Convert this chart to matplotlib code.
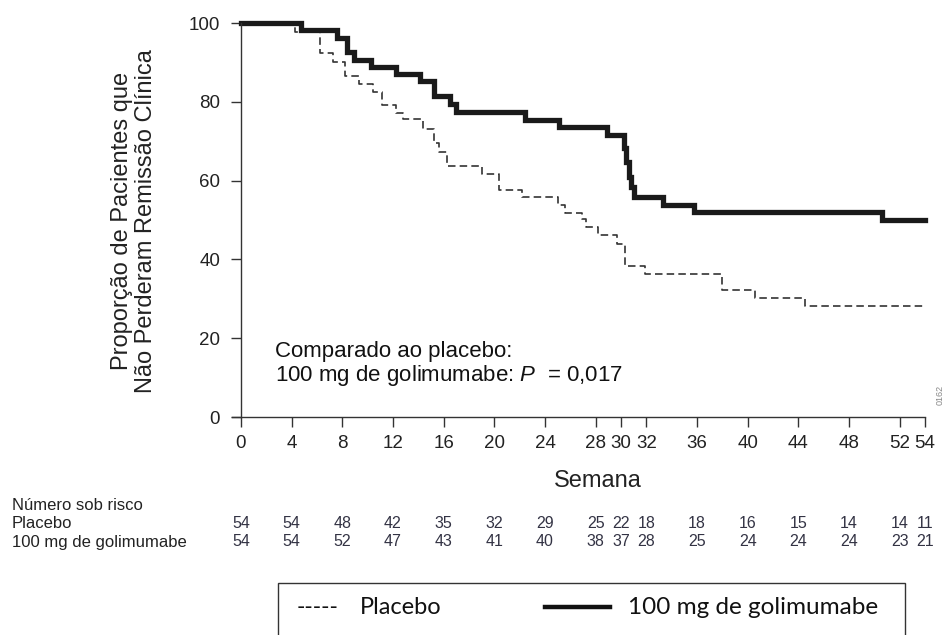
import numpy as np
import matplotlib
matplotlib.use('Agg')
import matplotlib.pyplot as plt
import matplotlib.transforms as mtransforms
from matplotlib.patches import Rectangle
from matplotlib.lines import Line2D

plt.rcParams['font.family'] = ['Liberation Sans', 'DejaVu Sans']
plt.rcParams['mathtext.fontset'] = 'custom'
plt.rcParams['mathtext.rm'] = 'Liberation Sans'
plt.rcParams['mathtext.it'] = 'Liberation Sans:italic'

# curva de Kaplan-Meier (semana, % sem perda de remissao)
gol_weeks = [0, 4.7, 7.6, 8.4, 8.9, 10.3, 12.2, 14.1, 15.2, 16.5, 17.0, 22.4, 25.1,
             28.9, 30.2, 30.4, 30.6, 30.8, 31.0, 33.3, 35.8, 50.6, 54]
gol_pct = [100, 98.1, 96.3, 92.6, 90.7, 88.9, 87.0, 85.2, 81.5, 79.4, 77.3, 75.5, 73.6,
           71.6, 68.2, 64.8, 61.0, 58.5, 55.9, 53.9, 52.0, 50.0, 50.0]

pla_weeks = [0, 4.3, 6.2, 7.3, 8.2, 9.3, 10.4, 11.1, 12.2, 12.8, 14.4, 15.2, 15.6,
             16.3, 19.0, 20.4, 22.2, 25.0, 25.6, 26.9, 27.2, 28.2, 29.7, 30.3,
             31.9, 38.0, 40.6, 44.5, 54]
pla_pct = [100, 97.6, 92.4, 90.2, 86.6, 84.5, 82.6, 79.2, 77.1, 75.6, 73.0, 69.5, 67.3,
           63.8, 61.6, 57.6, 55.8, 53.8, 51.9, 50.2, 48.1, 46.2, 43.9, 38.3,
           36.2, 32.2, 30.1, 28.2, 28.2]

xticks = [0, 4, 8, 12, 16, 20, 24, 28, 30, 32, 36, 40, 44, 48, 52, 54]
yticks = [0, 20, 40, 60, 80, 100]

risk_placebo = [54, 54, 48, 42, 35, 32, 29, 25, 22, 18, 18, 16, 15, 14, 14, 11]
risk_gol = [54, 54, 52, 47, 43, 41, 40, 38, 37, 28, 25, 24, 24, 24, 23, 21]

W, H = 944, 635
fig = plt.figure(figsize=(W / 100, H / 100), dpi=100)
ax = fig.add_axes([241 / W, 1 - 417 / H, (925 - 241) / W, (417 - 23) / H])

ax.step(pla_weeks, pla_pct, where='post', color='#333333', lw=1.2,
        linestyle=(0, (4.5, 2.5)), clip_on=False)
ax.step(gol_weeks, gol_pct, where='post', color='#1a1a1a', lw=3.8,
        solid_joinstyle='miter', clip_on=False)

ax.set_xlim(0, 54)
ax.set_ylim(0, 100)
ax.set_xticks(xticks)
ax.set_yticks(yticks)
ax.tick_params(direction='out', length=7, width=1, color='#333333',
               labelsize=13.5, labelcolor='#222222')
ax.tick_params(axis='y', pad=8)
ax.tick_params(axis='x', pad=6)
for s in ['top', 'right']:
    ax.spines[s].set_visible(False)
for s in ['left', 'bottom']:
    ax.spines[s].set_color('#333333')
    ax.spines[s].set_linewidth(1)
ax.spines['bottom'].set_bounds(-0.7, 54)

fig.text(134 / W, 1 - 221 / H, 'Proporção de Pacientes que\nNão Perderam Remissão Clínica',
         rotation=90, ha='center', va='center', fontsize=17, color='#222222',
         linespacing=1.15, multialignment='center')
fig.text(598 / W, 1 - 481 / H, 'Semana', ha='center', va='center', fontsize=17,
         color='#222222')

fig.text(275 / W, 1 - 352 / H, 'Comparado ao placebo:', ha='left', va='center',
         fontsize=16, color='#111111')
fig.text(275 / W, 1 - 376 / H, '100 mg de golimumabe: $P$  = 0,017', ha='left',
         va='center', fontsize=16, color='#111111')

fig.text(940 / W, 1 - 395 / H, '0162', rotation=90, ha='center', va='center',
         fontsize=6.5, color='#888888')

# tabela de numero sob risco
fig.text(12 / W, 1 - 505 / H, 'Número sob risco', ha='left', va='center', fontsize=12,
         color='#222222')
fig.text(12 / W, 1 - 524 / H, 'Placebo', ha='left', va='center', fontsize=12,
         color='#222222')
fig.text(12 / W, 1 - 542 / H, '100 mg de golimumabe', ha='left', va='center',
         fontsize=12, color='#222222')
trans = mtransforms.blended_transform_factory(ax.transData, fig.transFigure)
for wk, a, b in zip(xticks, risk_placebo, risk_gol):
    ax.text(wk, 1 - 524 / H, str(a), transform=trans, ha='center', va='center',
            fontsize=11.5, color='#333344', clip_on=False)
    ax.text(wk, 1 - 542 / H, str(b), transform=trans, ha='center', va='center',
            fontsize=11.5, color='#333344', clip_on=False)

# legenda em caixa
fig.add_artist(Rectangle((278 / W, -0.05), (905 - 278) / W, 1 - 583 / H + 0.05,
                         transform=fig.transFigure, fill=False, edgecolor='#333333',
                         lw=1))
fig.text(297 / W, 1 - 607 / H, '-----', ha='left', va='center', fontsize=16.5,
         family=['Lato', 'DejaVu Sans'], color='#111111')
fig.text(360 / W, 1 - 607 / H, 'Placebo', ha='left', va='center', fontsize=17,
         family=['Lato', 'DejaVu Sans'], color='#111111')
fig.add_artist(Line2D([545 / W, 610 / W], [1 - 607 / H, 1 - 607 / H],
                      transform=fig.transFigure, color='#111111', lw=3.2))
fig.text(628 / W, 1 - 607 / H, '100 mg de golimumabe', ha='left', va='center',
         fontsize=17.5, family=['Lato', 'DejaVu Sans'], color='#111111')

fig.savefig('out.png', dpi=100)
